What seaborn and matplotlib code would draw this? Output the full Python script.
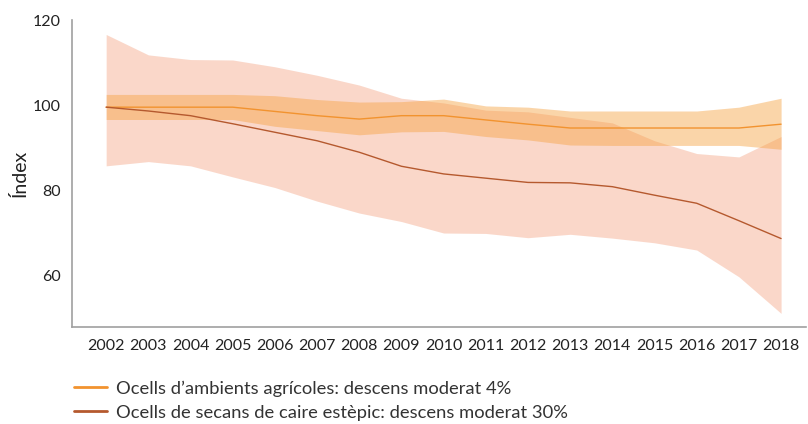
import matplotlib
matplotlib.use("Agg")
import matplotlib.pyplot as plt
from matplotlib.lines import Line2D
import numpy as np
import pandas as pd
import seaborn as sns

years = list(range(2002, 2019))

# Farmland birds index and confidence band
agri_index = [99.5, 99.5, 99.5, 99.5, 98.5, 97.5, 96.7, 97.5, 97.5, 96.5, 95.5, 94.6, 94.6, 94.6, 94.6, 94.6, 95.5]
agri_upper = [102.5, 102.5, 102.5, 102.5, 102.2, 101.3, 100.7, 100.8, 101.4, 99.8, 99.5, 98.6, 98.6, 98.6, 98.6, 99.5, 101.6]
agri_lower = [96.6, 96.6, 96.6, 96.6, 95.0, 94.0, 93.0, 93.7, 93.8, 92.6, 91.8, 90.6, 90.5, 90.5, 90.5, 90.5, 89.6]

# Steppe dryland birds index and confidence band
step_index = [99.5, 98.6, 97.5, 95.6, 93.6, 91.6, 88.9, 85.6, 83.8, 82.8, 81.8, 81.7, 80.8, 78.8, 76.9, 72.8, 68.6]
step_upper = [116.6, 111.8, 110.7, 110.6, 109.0, 107.0, 104.7, 101.6, 100.5, 98.8, 98.4, 97.1, 95.8, 91.6, 88.6, 87.8, 92.6]
step_lower = [85.7, 86.7, 85.7, 83.1, 80.6, 77.4, 74.6, 72.6, 69.9, 69.8, 68.8, 69.6, 68.7, 67.6, 65.9, 59.6, 51.0]

labels = ["Ocells d\u2019ambients agrícoles: descens moderat 4%",
          "Ocells de secans de caire estèpic: descens moderat 30%"]

df = pd.DataFrame({
    "any": years * 2,
    "index": agri_index + step_index,
    "grup": [labels[0]] * len(years) + [labels[1]] * len(years),
})

sns.set_theme(style="white")
plt.rcParams["font.family"] = ["Lato", "DejaVu Sans"]

fig = plt.figure(figsize=(8.08, 4.24), dpi=100)
ax = fig.add_axes([0.0891, 0.2288, 0.9084, 0.724])

ax.fill_between(years, step_lower, step_upper, color="#f4a889", alpha=0.45, linewidth=0)
ax.fill_between(years, agri_lower, agri_upper, color="#f6a242", alpha=0.45, linewidth=0)

line_colors = {labels[0]: "#f2932f", labels[1]: "#b5592e"}
sns.lineplot(data=df, x="any", y="index", hue="grup", palette=line_colors,
             linewidth=1.0, legend=False, ax=ax)

ax.set_xlim(2001.19, 2018.59)
ax.set_ylim(47.8, 120)
ax.set_xticks(years)
ax.set_xticklabels([str(y) for y in years])
ax.set_yticks([60, 80, 100, 120])
ax.set_xlabel("")
ax.set_ylabel("Índex", fontsize=14, color="#222222", labelpad=3)

for side in ("top", "right"):
    ax.spines[side].set_visible(False)
for side in ("left", "bottom"):
    ax.spines[side].set_color("#a0a0a0")
    ax.spines[side].set_linewidth(1.2)

ax.tick_params(axis="both", which="major", length=4, width=1, color="#a0a0a0",
               labelsize=11.5, labelcolor="#222222", direction="out")
ax.tick_params(axis="x", pad=5)
ax.tick_params(axis="y", pad=4)

handles = [Line2D([0], [0], color=line_colors[l], linewidth=2.0) for l in labels]
fig.legend(handles, labels, loc="upper left", bbox_to_anchor=(0.082, 0.12),
           frameon=False, fontsize=13.2, handlelength=1.8, handletextpad=0.5,
           labelspacing=0.42, borderaxespad=0, labelcolor="#333333")

fig.savefig("out.png", dpi=100)
